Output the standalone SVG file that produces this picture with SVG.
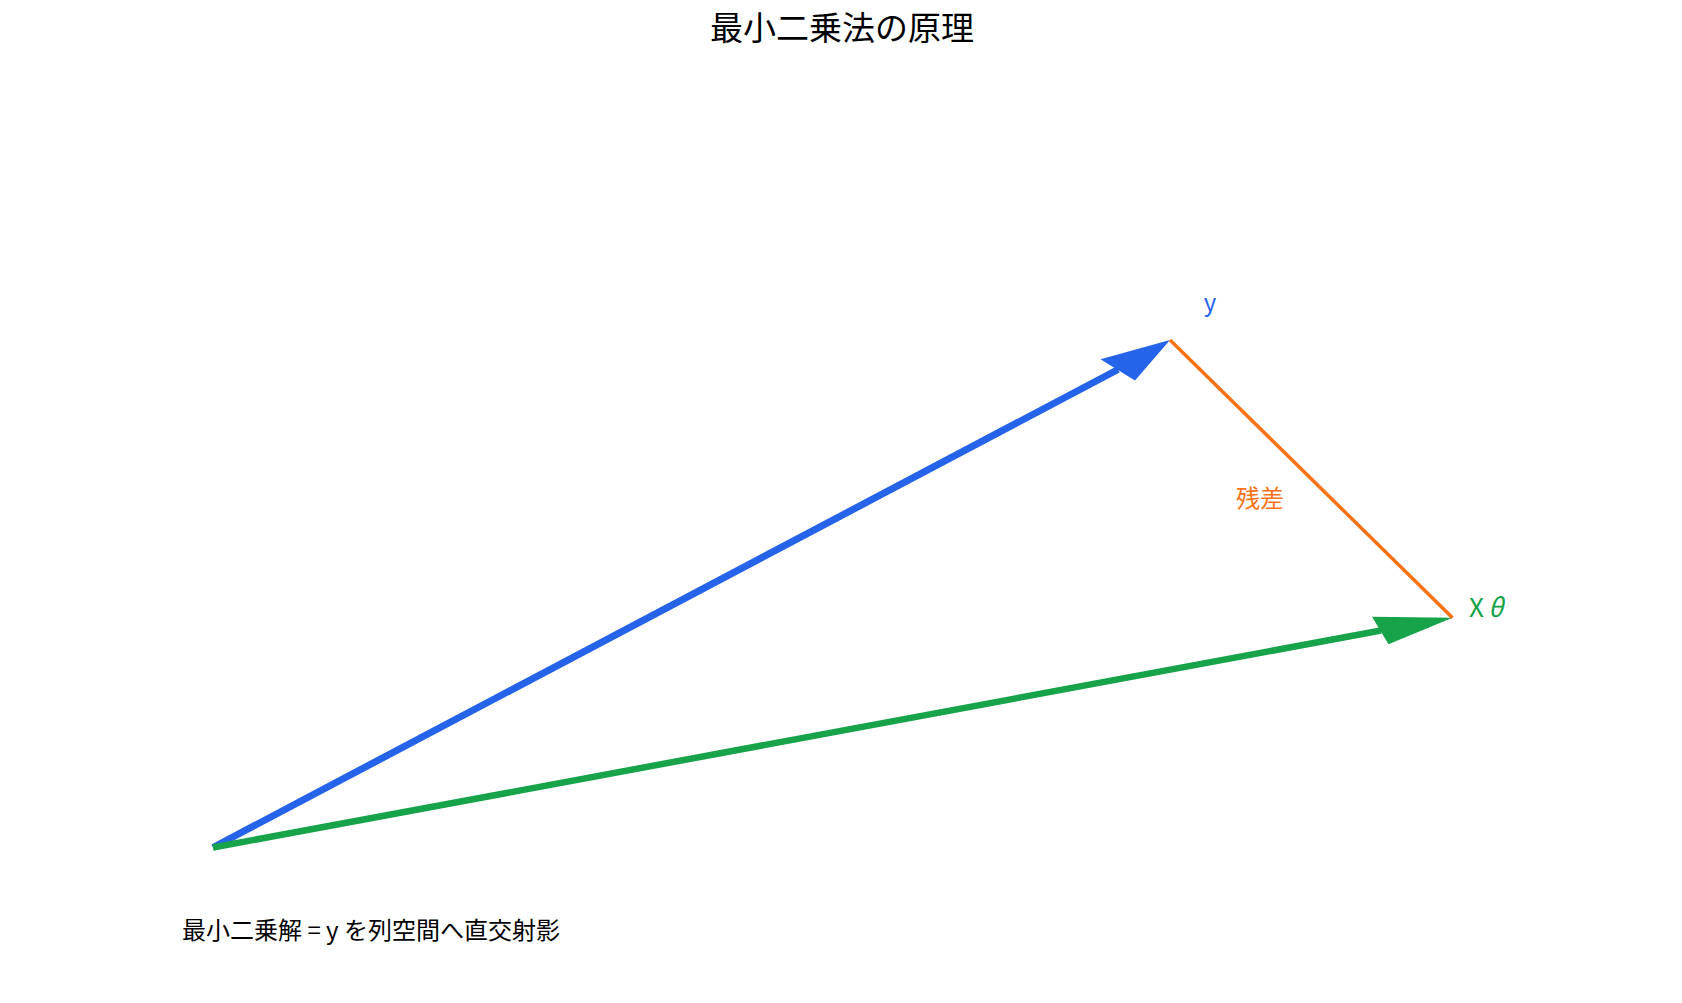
<svg xmlns="http://www.w3.org/2000/svg" width="1682" height="1003" viewBox="0 0 1682 1003">
<style>
text { font-family: "Noto Sans CJK JP", "Noto Sans", sans-serif; }
.title { font-size: 33px; fill: #000; }
.lbl { font-size: 24px; }
.note { font-size: 24px; fill: #000; }
</style>
<rect width="1682" height="1003" fill="#ffffff"/>
<text id="title" class="title" x="842" y="40" text-anchor="middle">最小二乗法の原理</text>
<g id="connectors">
  <g id="vec-y">
    <line x1="213" y1="847.5" x2="1118" y2="369.5" stroke="#2563eb" stroke-width="7"/>
    <polygon points="1170,340 1100.5,359.3 1135,380.5" fill="#2563eb"/>
  </g>
  <g id="vec-xtheta">
    <line x1="213" y1="847.5" x2="1381" y2="630.5" stroke="#16a34a" stroke-width="6.5"/>
    <polygon points="1452.5,617.7 1372,616.8 1388.5,644.3" fill="#16a34a"/>
  </g>
  <line id="residual" x1="1170" y1="340" x2="1452.5" y2="617.7" stroke="#f97316" stroke-width="3.5"/>
</g>
<g id="label-y"><text class="lbl" x="1210" y="311" text-anchor="middle" fill="#2563eb">y</text></g>
<g id="label-residual"><text class="lbl" x="1260" y="507" text-anchor="middle" fill="#f97316">残差</text></g>
<g id="label-xtheta"><text class="lbl" x="1469" y="617" fill="#16a34a" style="font-size:26px">X<tspan dx="4" font-style="italic">θ</tspan></text></g>
<g id="note"><text class="note" x="182" y="939">最小二乗解 = y を列空間へ直交射影</text></g>
</svg>
